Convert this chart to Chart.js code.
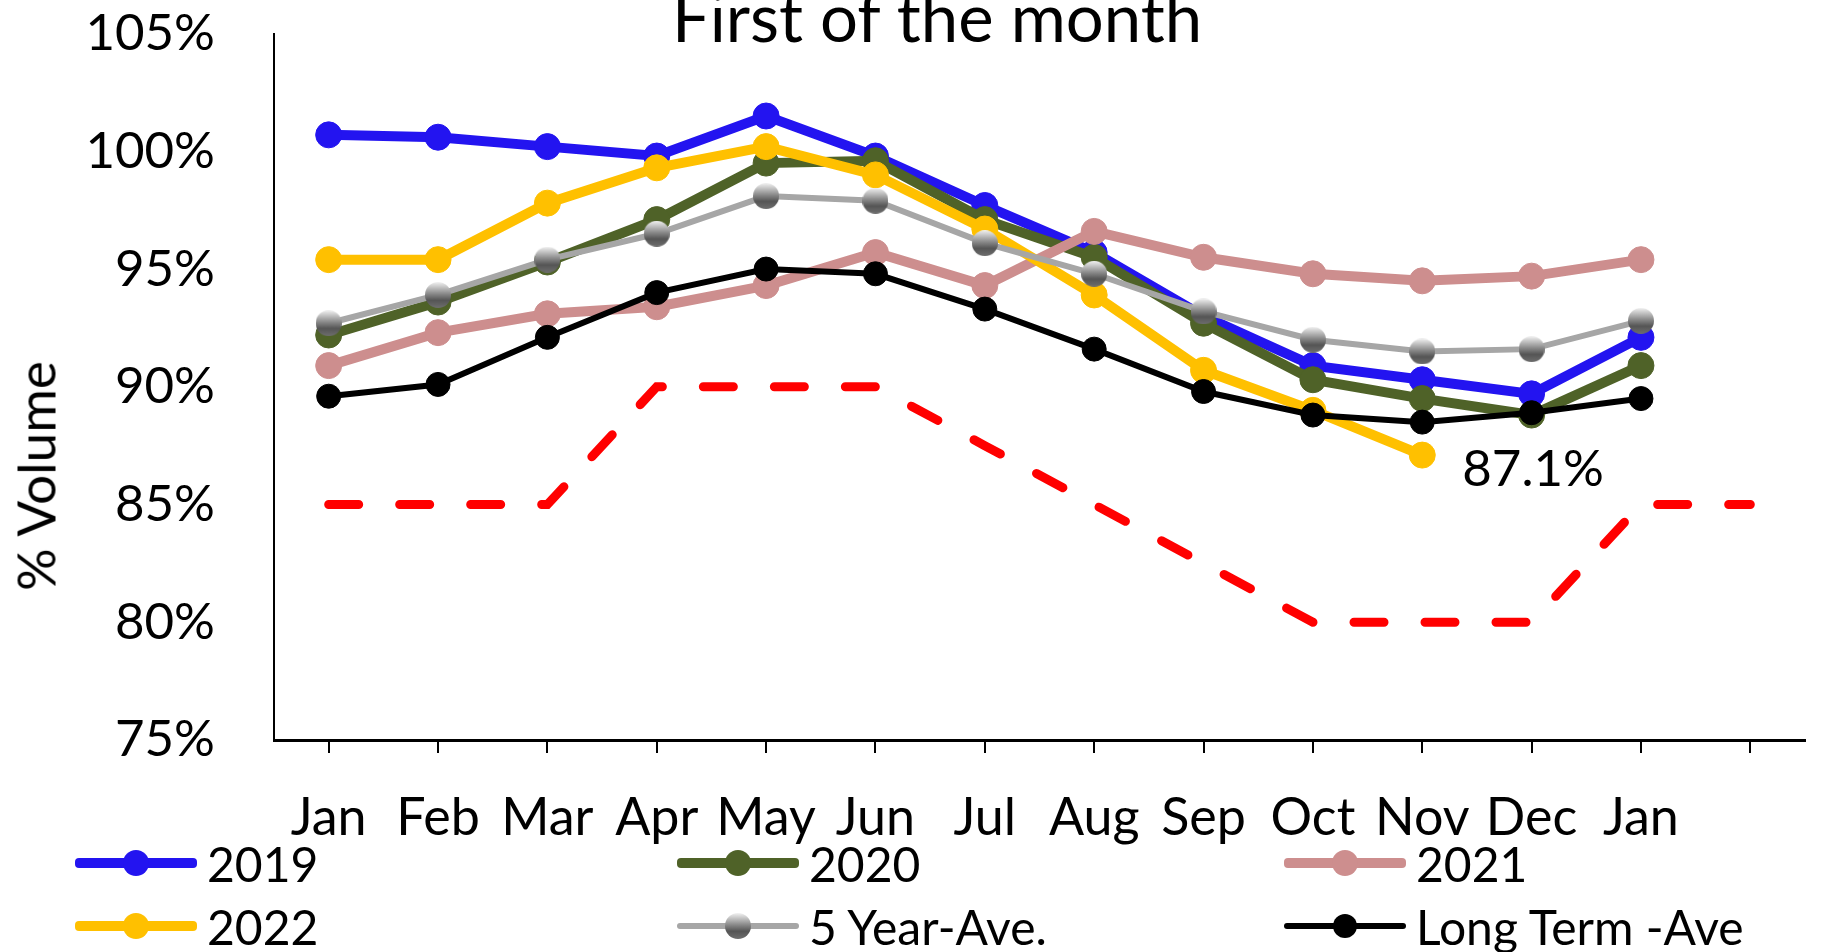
<!DOCTYPE html>
<html>
<head>
<meta charset="utf-8">
<script src="https://cdn.jsdelivr.net/npm/chart.js@4.4.0/dist/chart.umd.min.js"></script>
<style>
  html, body { margin: 0; padding: 0; background: #fff; }
  #wrap { position: relative; width: 1822px; height: 952px; overflow: hidden; font-family: Lato, sans-serif; }
  #chart { position: absolute; left: 0; top: 0; }
  #title { position: absolute; left: 937px; top: -17px; transform: translateX(-50%); font-size: 67px; line-height: 1; white-space: nowrap; color: #000; }
  #ytitle { position: absolute; left: 35px; top: 476px; transform: translate(-50%, -50%) rotate(-90deg); font-size: 53px; line-height: 1; white-space: nowrap; color: #000; }
  .leg { position: absolute; display: flex; align-items: center; height: 40px; margin-top: -20px; font-size: 48px; color: #000; white-space: nowrap; }
  .sw { position: relative; width: 122px; height: 40px; margin-right: 10px; }
  .sw .ln { position: absolute; left: 0; right: 0; top: 50%; border-radius: 4px; }
  .sw .pt { position: absolute; left: 50%; top: 50%; border-radius: 50%; }
</style>
</head>
<body>
<div id="wrap">
  <canvas id="chart" width="1822" height="952"></canvas>
  <div id="title">First of the month</div>
  <div id="ytitle">% Volume</div>
  <div id="legend"></div>
</div>
<script>
// Categories (last slot is empty, target line runs into it)
const months = ['Jan', 'Feb', 'Mar', 'Apr', 'May', 'Jun', 'Jul', 'Aug', 'Sep', 'Oct', 'Nov', 'Dec', 'Jan', ''];

// % volume on the first of each month
const y2019 = [100.7, 100.6, 100.2, 99.8, 101.5, 99.8, 97.7, 95.7, 93.0, 90.9, 90.3, 89.7, 92.1];
const y2020 = [92.2, 93.6, 95.3, 97.1, 99.5, 99.6, 97.1, 95.5, 92.7, 90.3, 89.5, 88.8, 90.9];
const y2021 = [90.9, 92.3, 93.1, 93.4, 94.3, 95.7, 94.3, 96.6, 95.5, 94.8, 94.5, 94.7, 95.4];
const y2022 = [95.4, 95.4, 97.8, 99.3, 100.2, 99.0, 96.7, 93.9, 90.7, 89.0, 87.1];
const fiveYearAve = [92.7, 93.9, 95.4, 96.5, 98.1, 97.9, 96.1, 94.8, 93.2, 92.0, 91.5, 91.6, 92.8];
const longTermAve = [89.6, 90.1, 92.1, 94.0, 95.0, 94.8, 93.3, 91.6, 89.8, 88.8, 88.5, 88.9, 89.5];
const targetLine = [85, 85, 85, 90, 90, 90, 87.5, 85, 82.5, 80, 80, 80, 85, 85];

// Y axis ticks
const yMin = 75;
const yMax = 105;
const yStep = 5;

const FONT = 'Lato';

// shaded grey marker used by the 5 year average
function sphereMarker(r) {
    const cv = document.createElement('canvas');
    cv.width = 2 * r;
    cv.height = 2 * r;
    const g = cv.getContext('2d');
    const grad = g.createLinearGradient(0, 0, 0, 2 * r);
    grad.addColorStop(0, '#f2f2f2');
    grad.addColorStop(0.45, '#8a8a8a');
    grad.addColorStop(0.7, '#555555');
    grad.addColorStop(1, '#6e6e6e');
    g.fillStyle = grad;
    g.beginPath();
    g.arc(r, r, r, 0, Math.PI * 2);
    g.fill();
    return cv;
}
const greyMarker = sphereMarker(13);

function series(label, data, color, width, radius, order, pointFill) {
    return {
        label: label,
        data: data,
        borderColor: color,
        backgroundColor: pointFill || color,
        pointBackgroundColor: pointFill || color,
        pointBorderColor: color,
        pointBorderWidth: 1,
        borderWidth: width,
        pointRadius: radius,
        pointHoverRadius: radius,
        tension: 0,
        order: order
    };
}

const fiveYr = series('5 Year-Ave.', fiveYearAve, '#A6A6A6', 6, 13, 1, '#7C7C7C');
fiveYr.pointStyle = greyMarker;

const datasets = [
    series('2019', y2019, '#2314F0', 10, 13, 5),
    series('2020', y2020, '#4F6228', 10, 13, 4),
    series('2021', y2021, '#CD8E8E', 10, 13, 3),
    series('2022', y2022, '#FFC000', 10, 13, 2),
    fiveYr,
    series('Long Term -Ave', longTermAve, '#000000', 6, 12, 0),
    {
        label: 'Target',
        data: targetLine,
        borderColor: '#FF0000',
        borderWidth: 9,
        borderDash: [30, 41],
        borderCapStyle: 'round',
        pointRadius: 0,
        tension: 0,
        order: 6,
        hideInLegend: true
    }
];

// Label next to the last 2022 point
const lastValueLabel = {
    id: 'lastValueLabel',
    afterDatasetsDraw(chart) {
        const meta = chart.getDatasetMeta(3);
        const idx = y2022.length - 1;
        const pt = meta.data[idx];
        const c = chart.ctx;
        c.save();
        c.font = '51px ' + FONT;
        c.fillStyle = '#000';
        c.textAlign = 'left';
        c.textBaseline = 'middle';
        c.fillText(y2022[idx].toFixed(1) + '%', pt.x + 40, pt.y + 14);
        c.restore();
    }
};

const ctx = document.getElementById('chart').getContext('2d');
const chart = new Chart(ctx, {
    type: 'line',
    data: { labels: months, datasets: datasets },
    options: {
        responsive: false,
        animation: false,
        layout: { padding: { top: 32, right: 17, bottom: 0, left: 0 } },
        scales: {
            x: {
                offset: true,
                afterFit(scale) { scale.height = 212; },
                border: { display: true, color: '#000', width: 3 },
                grid: { display: true, drawOnChartArea: false, drawTicks: true, tickLength: 13, color: '#000', lineWidth: 2 },
                ticks: {
                    color: '#000', font: { family: FONT, size: 52 }, padding: 34,
                    maxRotation: 0, autoSkip: false
                }
            },
            y: {
                min: yMin,
                max: yMax,
                afterFit(scale) { scale.width = 274; },
                border: { display: true, color: '#000', width: 2 },
                // invisible ticks push the labels away from the axis line
                grid: { display: true, drawOnChartArea: false, drawTicks: true, tickLength: 56, color: 'rgba(0,0,0,0)' },
                ticks: {
                    stepSize: yStep,
                    color: '#000',
                    font: { family: FONT, size: 51 },
                    padding: 3,
                    callback: v => v + '%'
                }
            }
        },
        plugins: {
            legend: { display: false },
            tooltip: { enabled: false },
            title: { display: false }
        }
    },
    plugins: [lastValueLabel]
});

// HTML legend laid out in a 3 x 2 grid
const legCols = [75, 677, 1284];
const legRows = [863, 926];
const legendEl = document.getElementById('legend');
datasets.filter(d => !d.hideInLegend).forEach((d, i) => {
    const item = document.createElement('div');
    item.className = 'leg';
    item.style.left = legCols[i % 3] + 'px';
    item.style.top = legRows[Math.floor(i / 3)] + 'px';
    const sw = document.createElement('div');
    sw.className = 'sw';
    const ln = document.createElement('div');
    ln.className = 'ln';
    ln.style.height = d.borderWidth + 'px';
    ln.style.marginTop = (-d.borderWidth / 2) + 'px';
    ln.style.background = d.borderColor;
    const pt = document.createElement('div');
    pt.className = 'pt';
    const r = d.pointRadius;
    pt.style.width = (2 * r) + 'px';
    pt.style.height = (2 * r) + 'px';
    pt.style.marginLeft = (-r) + 'px';
    pt.style.marginTop = (-r) + 'px';
    pt.style.background = d.pointStyle === greyMarker
        ? 'linear-gradient(#f2f2f2, #8a8a8a 45%, #555 70%, #6e6e6e)'
        : d.pointBackgroundColor;
    sw.appendChild(ln);
    sw.appendChild(pt);
    const tx = document.createElement('span');
    tx.textContent = d.label;
    item.appendChild(sw);
    item.appendChild(tx);
    legendEl.appendChild(item);
});
</script>
</body>
</html>
